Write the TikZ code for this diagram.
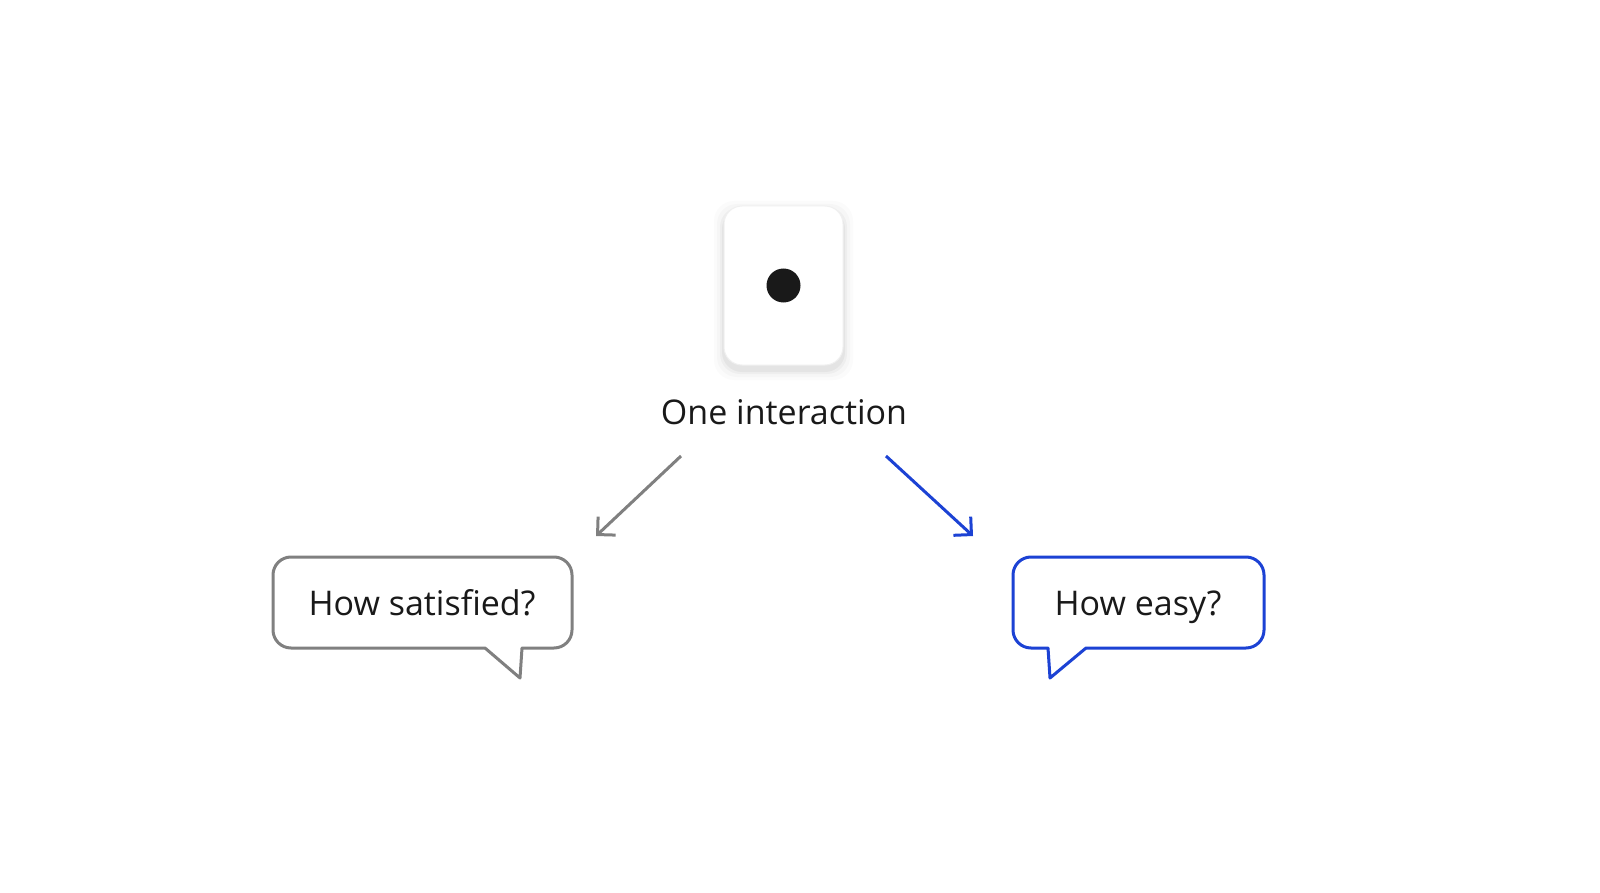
\documentclass[tikz,border=0pt]{standalone}
\usepackage{fontspec}
\setmainfont{Open Sans}
\usetikzlibrary{arrows.meta}
\definecolor{gr}{RGB}{128,128,128}
\definecolor{bl}{RGB}{28,66,212}
\definecolor{tx}{RGB}{25,25,25}
\tikzset{lbl/.style={font=\fontsize{34}{40}\selectfont, text=tx, anchor=base, inner sep=0pt},
 arr/.style={line width=3pt,-{Straight Barb[length=12pt,width=24pt,angle=90:18pt]}},
 bub/.style={line width=3pt, fill=white, line join=round}}
\begin{document}
\begin{tikzpicture}[x=1pt,y=-1pt]
\useasboundingbox (0,0) rectangle (1600,893);
\clip (0,0) rectangle (1600,893);
\fill[white] (0,0) rectangle (1600,893);
% card shadow
\foreach \i/\o in {10/0.015,7/0.02,4/0.03,2/0.04}
  \fill[black,opacity=\o,rounded corners=20] (724-\i,206-\i+5) rectangle (843+\i,365+\i+5);
\node[draw=black!6,line width=1pt,fill=white,rounded corners=18,minimum width=119pt,minimum height=159pt] (card) at (783.5,285.5) {};
\fill[tx] (card.center) circle (17);
\node[lbl] (one) at (784,424) {One interaction};
\coordinate (ls) at (681,456); \coordinate (le) at (596,536);
\coordinate (rs) at (886,456); \coordinate (re) at (973,536);
\draw[arr,gr] (ls) -- (le);
\draw[arr,bl] (rs) -- (re);
\draw[bub,draw=gr,rounded corners=18] (273,600) -- (273,557) -- (572,557) -- (572,648) [sharp corners] -- (522,648) -- (520,678) -- (485,648) [rounded corners=18] -- (273,648) -- cycle;
\node[lbl] (sat) at (422,615) {How satisfied?};
\draw[bub,draw=bl,rounded corners=18] (1013,600) -- (1013,557) -- (1264,557) -- (1264,648) [sharp corners] -- (1086,648) -- (1050,678) -- (1048,648) [rounded corners=18] -- (1013,648) -- cycle;
\node[lbl] (easy) at (1138,615) {How easy?};
\end{tikzpicture}
\end{document}
